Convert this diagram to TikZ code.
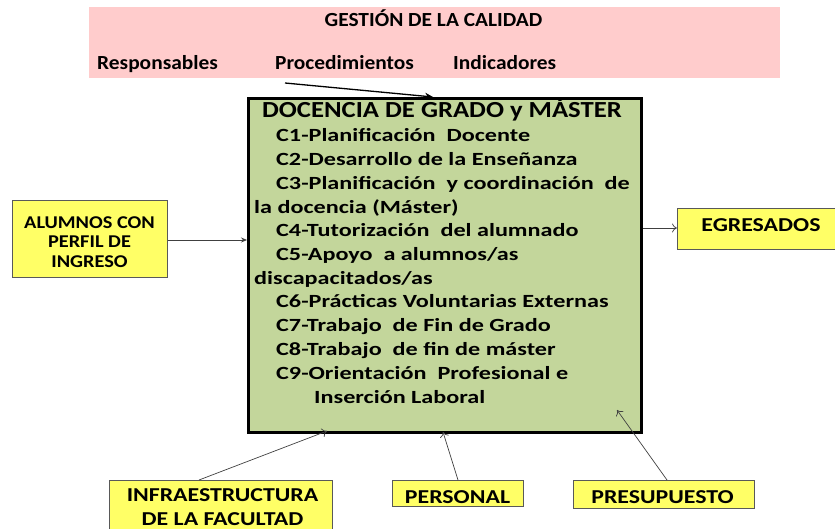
\documentclass[tikz,border=0pt]{standalone}
\usepackage{fontspec}
\setmainfont{Carlito}
\newfontfamily\fpink[FakeStretch=1.07]{Carlito}
\newfontfamily\ftitle[FakeStretch=1.16]{Carlito}
\newfontfamily\fitem[FakeStretch=1.3]{Carlito}
\newfontfamily\falum[FakeStretch=1.13]{Carlito}
\newfontfamily\fyel[FakeStretch=1.21]{Carlito}
\usetikzlibrary{arrows.meta}
\definecolor{pinkbg}{HTML}{FFCCCC}
\definecolor{greenbg}{HTML}{C3D69B}
\definecolor{yellowbg}{HTML}{FFFF66}
\tikzset{
  ybox/.style={draw=black!65, line width=0.8pt, fill=yellowbg, inner sep=0pt, anchor=north west},
  ytext/.style={inner sep=0pt, align=center, font=\fyel\bfseries\fontsize{19.7}{24}\selectfont},
  item/.style={anchor=base west, inner sep=0pt, font=\fitem\bfseries\fontsize{18.6}{22}\selectfont},
  ptext/.style={anchor=base west, inner sep=0pt, font=\fpink\bfseries\fontsize{20}{24}\selectfont},
  thinarrow/.style={draw=black!75, line width=0.7pt, -{To[length=5pt,width=9pt]}},
}
\begin{document}
\begin{tikzpicture}[x=1pt,y=-1pt]
\useasboundingbox (0,0) rectangle (835,529);
% quality band
\node[fill=pinkbg, minimum width=691pt, minimum height=71pt, inner sep=0pt, anchor=north west] (band) at (89,7) {};
\node[inner sep=0pt, anchor=base, font=\fpink\bfseries\fontsize{20}{24}\selectfont] (gest) at (433.5,27) {GESTIÓN DE LA CALIDAD};
\node[ptext] (resp) at (97,70) {Responsables};
\node[ptext] (proc) at (275,70) {Procedimientos};
\node[ptext] (ind) at (453,70) {Indicadores};
% main box
\node[draw=black, line width=2.6pt, fill=greenbg, minimum width=393pt, minimum height=334pt, inner sep=0pt, anchor=north west] (main) at (247,97) {};
\node[inner sep=0pt, anchor=base, font=\ftitle\bfseries\fontsize{23}{26}\selectfont] (title) at (442,118) {DOCENCIA DE GRADO y MÁSTER};
\node[item] (l1) at (276,142) {C1-Planificación\ \ Docente};
\node[item] (l2) at (276,166) {C2-Desarrollo de la Enseñanza};
\node[item] (l3) at (276,189.8) {C3-Planificación\ \ y coordinación\ \ de};
\node[item] (l4) at (254,213.3) {la docencia (Máster)};
\node[item] (l5) at (276,237) {C4-Tutorización\ \ del alumnado};
\node[item] (l6) at (276,260.7) {C5-Apoyo\ \ a alumnos/as};
\node[item] (l7) at (254,284.4) {discapacitados/as};
\node[item] (l8) at (276,308) {C6-Prácticas Voluntarias Externas};
\node[item] (l9) at (276,331.7) {C7-Trabajo\ \ de Fin de Grado};
\node[item] (l10) at (276,355.4) {C8-Trabajo\ \ de fin de máster};
\node[item] (l11) at (276,379.5) {C9-Orientación\ \ Profesional e};
\node[item] (l12) at (314,403) {Inserción Laboral};
% yellow boxes
\node[ybox, minimum width=155pt, minimum height=77pt] (alum) at (12,200) {};
\node[inner sep=0pt, align=center, font=\falum\bfseries\fontsize{18}{19.5}\selectfont] (alumt) at (89.5,242) {ALUMNOS CON\\PERFIL DE\\INGRESO};
\node[ybox, minimum width=170pt, minimum height=41pt] (egr) at (677,208) {};
\node[ytext] (egrt) at (761,225.5) {EGRESADOS};
\node[ybox, minimum width=223pt, minimum height=60pt] (infra) at (109,480) {};
\node[ytext, anchor=base] (infrat) at (222.5,525.5) {INFRAESTRUCTURA\\DE LA FACULTAD};
\node[ybox, minimum width=131pt, minimum height=26pt] (pers) at (392,480) {};
\node[ytext, anchor=base] (perst) at (457.5,503) {PERSONAL};
\node[ybox, minimum width=181pt, minimum height=28pt] (pres) at (573,480) {};
\node[ytext, anchor=base] (prest) at (662.5,503) {PRESUPUESTO};
% connectors
\coordinate (procfoot) at (285,83);
\coordinate (maintop) at (433,97);
\draw[black, line width=1.3pt, -{Stealth[length=8pt,width=7pt]}] (procfoot) -- (maintop);
\draw[black!75, line width=0.8pt, -{Stealth[length=6pt,width=5pt]}] (alum.east |- 0,240) -- (main.west |- 0,240);
\draw[thinarrow] (main.east |- 0,228) -- (egr.west |- 0,228);
\coordinate (infratop) at (199,480);
\coordinate (infraend) at (327,431);
\draw[thinarrow] (infratop) -- (infraend);
\coordinate (perstop) at (458,480);
\coordinate (persend) at (443,432);
\draw[thinarrow] (perstop) -- (persend);
\coordinate (prestop) at (667,480);
\coordinate (presend) at (617,410);
\draw[thinarrow] (prestop) -- (presend);
\end{tikzpicture}
\end{document}
